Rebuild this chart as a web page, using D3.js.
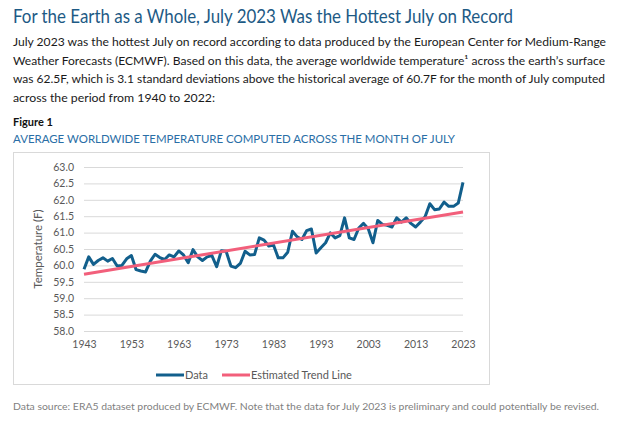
<!DOCTYPE html>
<html>
<head>
<meta charset="utf-8">
<script src="https://cdn.jsdelivr.net/npm/d3@7"></script>
<style>
  body { margin: 0; background: #fff; }
  svg { display: block; font-family: Lato, "Noto Sans", sans-serif; }
</style>
</head>
<body>
<div id="chart"></div>
<script>
// Chart data
const years = d3.range(1943, 2024);
const temps = [
  59.88, 60.26, 60.03, 60.15, 60.23, 60.13, 60.21, 59.98, 60.00, 60.20,
  60.30, 59.87, 59.83, 59.80, 60.13, 60.34, 60.24, 60.18, 60.32, 60.26,
  60.44, 60.32, 60.08, 60.48, 60.26, 60.15, 60.26, 60.30, 59.96, 60.45,
  60.43, 59.98, 59.93, 60.06, 60.43, 60.32, 60.33, 60.84, 60.77, 60.59,
  60.62, 60.23, 60.23, 60.40, 61.04, 60.87, 60.79, 61.06, 61.11, 60.38,
  60.54, 60.69, 60.99, 60.84, 60.91, 61.45, 60.84, 60.79, 61.14, 61.28,
  61.12, 60.69, 61.37, 61.25, 61.22, 61.17, 61.45, 61.32, 61.45, 61.28,
  61.17, 61.32, 61.48, 61.88, 61.70, 61.72, 61.93, 61.80, 61.80, 61.90,
  62.53
];
const trendYears = [1943, 2023];
const trendTemps = [59.73, 61.63];
const yTicks = [58, 58.5, 59, 59.5, 60, 60.5, 61, 61.5, 62, 62.5, 63];
const xTicks = [1943, 1953, 1963, 1973, 1983, 1993, 2003, 2013, 2023];

const width = 626, height = 425;

const svg = d3.select("#chart").append("svg")
    .attr("width", width)
    .attr("height", height);

// Header text
svg.append("text")
    .attr("x", 13).attr("y", 23)
    .attr("font-size", 19)
    .attr("fill", "#1d5a85")
    .attr("textLength", 500).attr("lengthAdjust", "spacingAndGlyphs")
    .text("For the Earth as a Whole, July 2023 Was the Hottest July on Record");

const body = [
  { t: "July 2023 was the hottest July on record according to data produced by the European Center for Medium-Range", w: 593 },
  { t: "Weather Forecasts (ECMWF). Based on this data, the average worldwide temperature¹ across the earth’s surface", w: 592 },
  { t: "was 62.5F, which is 3.1 standard deviations above the historical average of 60.7F for the month of July computed", w: 592 },
  { t: "across the period from 1940 to 2022:", w: 202 }
];
svg.append("g").selectAll("text")
    .data(body)
    .join("text")
    .attr("x", 13).attr("y", (d, i) => 46 + i * 18.7)
    .attr("font-size", 12)
    .attr("fill", "#1a1a1a")
    .attr("textLength", d => d.w).attr("lengthAdjust", "spacingAndGlyphs")
    .text(d => d.t);

svg.append("text")
    .attr("x", 13).attr("y", 126)
    .attr("font-size", 11).attr("font-weight", "bold")
    .attr("fill", "#111")
    .text("Figure 1");

svg.append("text")
    .attr("x", 13).attr("y", 143)
    .attr("font-size", 12)
    .attr("fill", "#2a6ea6")
    .attr("textLength", 442).attr("lengthAdjust", "spacingAndGlyphs")
    .text("AVERAGE WORLDWIDE TEMPERATURE COMPUTED ACROSS THE MONTH OF JULY");

// Chart frame
svg.append("rect")
    .attr("x", 13.5).attr("y", 152.5)
    .attr("width", 476).attr("height", 232)
    .attr("fill", "#fff")
    .attr("stroke", "#d9d9d9");

// Scales
const x = d3.scaleLinear().domain([1943, 2023]).range([84, 463]);
const y = d3.scaleLinear().domain([58, 63]).range([331, 167]);

// Y grid + labels
const yAxis = svg.append("g")
    .attr("transform", `translate(84,0)`)
    .call(d3.axisLeft(y).tickValues(yTicks).tickFormat(d3.format(".1f"))
        .tickSize(-(463 - 84)).tickPadding(10));
yAxis.select(".domain").remove();
yAxis.selectAll(".tick line").attr("stroke", "#d9d9d9").attr("stroke-width", 1);
yAxis.selectAll(".tick text")
    .attr("fill", "#595959").attr("font-size", 10.5)
    .attr("font-family", "Lato, 'Noto Sans', sans-serif");

// X labels
const xAxis = svg.append("g")
    .attr("transform", `translate(0,331)`)
    .call(d3.axisBottom(x).tickValues(xTicks).tickFormat(d3.format("d"))
        .tickSize(0).tickPadding(10));
xAxis.select(".domain").remove();
xAxis.selectAll(".tick text")
    .attr("fill", "#595959").attr("font-size", 10.5)
    .attr("font-family", "Lato, 'Noto Sans', sans-serif");

// Y axis title
svg.append("text")
    .attr("transform", "translate(42,249) rotate(-90)")
    .attr("text-anchor", "middle")
    .attr("font-size", 11.5)
    .attr("fill", "#595959")
    .text("Temperature (F)");

// Lines
const line = d3.line().x(d => x(d[0])).y(d => y(d[1]));

svg.append("path")
    .datum(years.map((yr, i) => [yr, temps[i]]))
    .attr("d", line)
    .attr("fill", "none")
    .attr("stroke", "#125f8c")
    .attr("stroke-width", 3)
    .attr("stroke-linejoin", "round");

svg.append("path")
    .datum(trendYears.map((yr, i) => [yr, trendTemps[i]]))
    .attr("d", line)
    .attr("fill", "none")
    .attr("stroke", "#f25f7b")
    .attr("stroke-width", 3);

// Legend
const legend = [
  { name: "Data", color: "#125f8c", x: 156 },
  { name: "Estimated Trend Line", color: "#f25f7b", x: 222 }
];
const lg = svg.append("g").selectAll("g")
    .data(legend)
    .join("g")
    .attr("transform", d => `translate(${d.x},375)`);
lg.append("line")
    .attr("x1", 0).attr("x2", 28)
    .attr("stroke", d => d.color).attr("stroke-width", 3);
lg.append("text")
    .attr("x", 29).attr("dy", "0.35em")
    .attr("font-size", 11)
    .attr("fill", "#595959")
    .text(d => d.name);

// Footnote
svg.append("text")
    .attr("x", 13).attr("y", 410)
    .attr("font-size", 10)
    .attr("fill", "#7f7f7f")
    .attr("textLength", 586).attr("lengthAdjust", "spacingAndGlyphs")
    .text("Data source: ERA5 dataset produced by ECMWF. Note that the data for July 2023 is preliminary and could potentially be revised.");
</script>
</body>
</html>
